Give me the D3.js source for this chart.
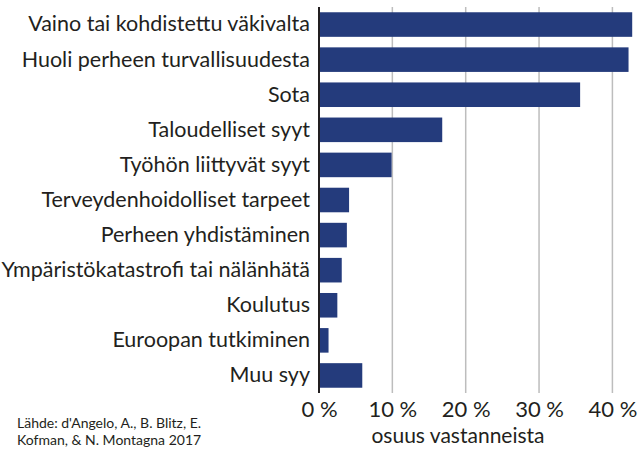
<!DOCTYPE html>
<html>
<head>
<meta charset="utf-8">
<script src="https://cdn.jsdelivr.net/npm/d3@7"></script>
<style>
  body { margin: 0; background: #fff; }
  text { font-family: Lato, "Open Sans", sans-serif; fill: #231f20; }
</style>
</head>
<body>
<div class="chart"></div>
<script>
var categories = [
  "Vaino tai kohdistettu väkivalta",
  "Huoli perheen turvallisuudesta",
  "Sota",
  "Taloudelliset syyt",
  "Työhön liittyvät syyt",
  "Terveydenhoidolliset tarpeet",
  "Perheen yhdistäminen",
  "Ympäristökatastrofi tai nälänhätä",
  "Koulutus",
  "Euroopan tutkiminen",
  "Muu syy"
];
var values = [42.7, 42.2, 35.6, 16.8, 9.9, 4.1, 3.8, 3.1, 2.5, 1.3, 5.9];
var tickValues = [0, 10, 20, 30, 40];
var sourceLines = ["Lähde: d'Angelo, A., B. Blitz, E.", "Kofman, & N. Montagna 2017"];

var svgWidth = 641;
var svgHeight = 466;

var margin = { top: 7, right: 8, bottom: 73, left: 319 };
var width = svgWidth - margin.left - margin.right;
var height = svgHeight - margin.top - margin.bottom;

var svg = d3.select(".chart")
  .append("svg")
  .attr("width", svgWidth)
  .attr("height", svgHeight);

var chartGroup = svg.append("g")
  .attr("transform", `translate(${margin.left}, ${margin.top})`);

var xScale = d3.scaleLinear()
  .domain([0, 40])
  .range([0, 293.4]);

var yScale = d3.scaleBand()
  .domain(categories)
  .range([0, height])
  .paddingInner(0.3)
  .paddingOuter(0.15);

// gridlines
chartGroup.selectAll(".grid")
  .data(tickValues.slice(1))
  .enter()
  .append("line")
  .attr("x1", d => xScale(d))
  .attr("x2", d => xScale(d))
  .attr("y1", 0)
  .attr("y2", height)
  .attr("stroke", "#bdbdbd")
  .attr("stroke-width", 1.5);

// bars
chartGroup.selectAll("rect")
  .data(values)
  .enter()
  .append("rect")
  .attr("x", 0)
  .attr("y", (d, i) => yScale(categories[i]))
  .attr("width", d => xScale(d))
  .attr("height", yScale.bandwidth())
  .attr("fill", "#243b7c");

// x axis
var bottomAxis = d3.axisBottom(xScale)
  .tickValues(tickValues)
  .tickSize(0)
  .tickPadding(8)
  .tickFormat(d => d + " %");

var xAxis = chartGroup.append("g")
  .attr("transform", `translate(0, ${height})`)
  .call(bottomAxis);
xAxis.select(".domain").remove();
xAxis.selectAll("text")
  .style("font-size", "22px")
  .style("font-family", "Lato, sans-serif")
  .attr("fill", "#231f20");

// y axis
var leftAxis = d3.axisLeft(yScale)
  .tickSize(0)
  .tickPadding(9);

var yAxis = chartGroup.append("g")
  .call(leftAxis);
yAxis.select(".domain")
  .attr("stroke", "#231f20")
  .attr("stroke-width", 2)
  .attr("d", `M0,0V${height}`);
yAxis.selectAll("text")
  .style("font-size", "21.5px")
  .style("font-family", "Lato, sans-serif")
  .attr("fill", "#231f20");

// axis title
chartGroup.append("text")
  .attr("x", 139)
  .attr("y", height + 50)
  .attr("text-anchor", "middle")
  .style("font-size", "21px")
  .text("osuus vastanneista");

// source
svg.selectAll(".source")
  .data(sourceLines)
  .enter()
  .append("text")
  .attr("class", "source")
  .attr("x", 17)
  .attr("y", (d, i) => 428 + i * 17)
  .style("font-size", "14px")
  .text(d => d);
</script>
</body>
</html>
